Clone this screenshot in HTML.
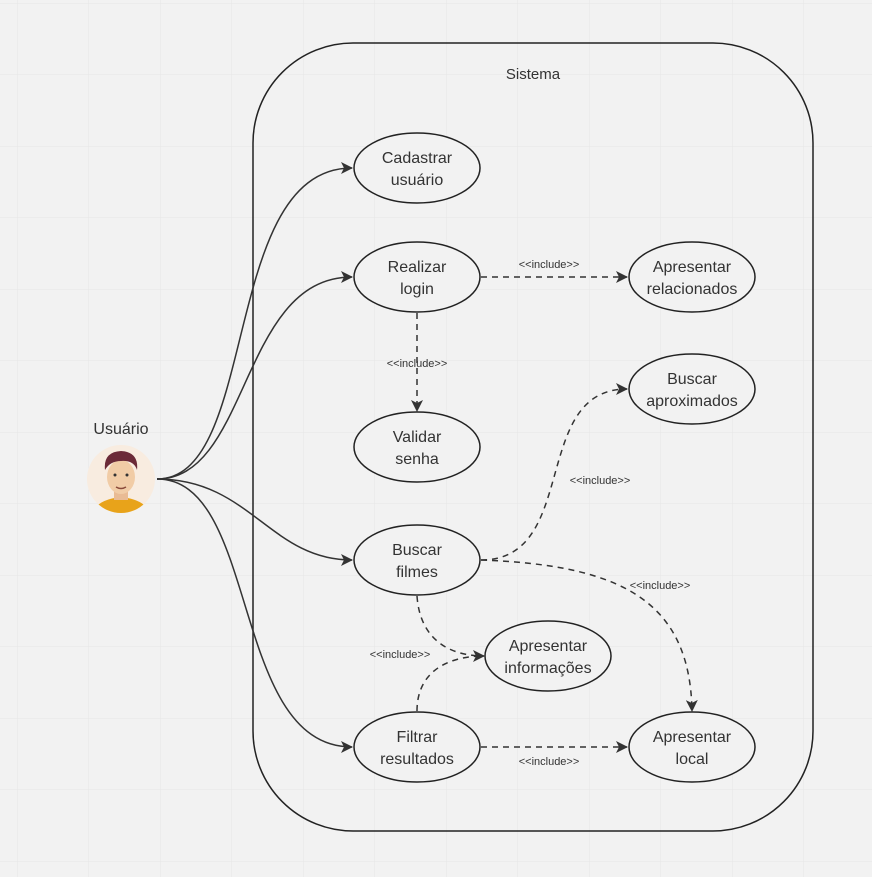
<!DOCTYPE html>
<html><head><meta charset="utf-8"><style>
html,body{margin:0;padding:0;background:#f2f2f2;}
svg{display:block;font-family:"Liberation Sans",sans-serif;}
</style></head><body>
<svg width="872" height="877" viewBox="0 0 872 877">
<defs>
<pattern id="g" x="17" y="3" width="71.5" height="71.5" patternUnits="userSpaceOnUse">
<path d="M0 0V71.5M0 0H71.5" stroke="#e6e6e6" stroke-width="1" fill="none"/>
</pattern>
<marker id="a" markerWidth="12" markerHeight="12" refX="11" refY="6" orient="auto" markerUnits="userSpaceOnUse">
<path d="M0 0L12 6L0 12L3 6Z" fill="#333"/>
</marker>
</defs>
<rect width="872" height="877" fill="url(#g)"/>
<rect x="253" y="43" width="560" height="788" rx="100" fill="none" stroke="#222" stroke-width="1.5"/>
<text x="533" y="79" font-size="15" fill="#333" text-anchor="middle">Sistema</text>

<g fill="none" stroke="#333" stroke-width="1.5">
<path d="M157 479C260 479 220 168 352 168" marker-end="url(#a)"/>
<path d="M157 479C250 479 240 277 352 277" marker-end="url(#a)"/>
<path d="M157 479C250 479 270 560 352 560" marker-end="url(#a)"/>
<path d="M157 479C260 479 230 747 352 747" marker-end="url(#a)"/>
</g>
<g fill="none" stroke="#333" stroke-width="1.5" stroke-dasharray="6 5">
<path d="M481 277H627" marker-end="url(#a)"/>
<path d="M417 313V411" marker-end="url(#a)"/>
<path d="M481 560C580 560 530 389 627 389" marker-end="url(#a)"/>
<path d="M481 560C620 565 690 600 692 711" marker-end="url(#a)"/>
<path d="M417 596C420 640 450 656 484 656" marker-end="url(#a)"/>
<path d="M417 711C417 670 450 656 484 656"/>
<path d="M481 747H627" marker-end="url(#a)"/>
</g>
<g font-size="11" fill="#333" text-anchor="middle">
<text x="549" y="268">&lt;&lt;include&gt;&gt;</text>
<text x="417" y="367">&lt;&lt;include&gt;&gt;</text>
<text x="600" y="484">&lt;&lt;include&gt;&gt;</text>
<text x="660" y="589">&lt;&lt;include&gt;&gt;</text>
<text x="400" y="658">&lt;&lt;include&gt;&gt;</text>
<text x="549" y="765">&lt;&lt;include&gt;&gt;</text>
</g>

<g fill="#f2f2f2" stroke="#222" stroke-width="1.5">
<ellipse cx="417" cy="168" rx="63" ry="35"/>
<ellipse cx="417" cy="277" rx="63" ry="35"/>
<ellipse cx="417" cy="447" rx="63" ry="35"/>
<ellipse cx="417" cy="560" rx="63" ry="35"/>
<ellipse cx="417" cy="747" rx="63" ry="35"/>
<ellipse cx="692" cy="277" rx="63" ry="35"/>
<ellipse cx="692" cy="389" rx="63" ry="35"/>
<ellipse cx="548" cy="656" rx="63" ry="35"/>
<ellipse cx="692" cy="747" rx="63" ry="35"/>
</g>
<g font-size="16" fill="#333" text-anchor="middle">
<text x="417" y="163">Cadastrar</text><text x="417" y="185">usuário</text>
<text x="417" y="272">Realizar</text><text x="417" y="294">login</text>
<text x="417" y="442">Validar</text><text x="417" y="464">senha</text>
<text x="417" y="555">Buscar</text><text x="417" y="577">filmes</text>
<text x="417" y="742">Filtrar</text><text x="417" y="764">resultados</text>
<text x="692" y="272">Apresentar</text><text x="692" y="294">relacionados</text>
<text x="692" y="384">Buscar</text><text x="692" y="406">aproximados</text>
<text x="548" y="651">Apresentar</text><text x="548" y="673">informações</text>
<text x="692" y="742">Apresentar</text><text x="692" y="764">local</text>
</g>

<text x="121" y="434" font-size="16" fill="#333" text-anchor="middle">Usuário</text>
<clipPath id="c"><circle cx="121" cy="479" r="34"/></clipPath>
<circle cx="121" cy="479" r="34" fill="#f8ece0"/>
<g clip-path="url(#c)">
<path d="M90 520Q92 500 121 497Q150 500 152 520Z" fill="#e8a31a"/>
<rect x="114" y="488" width="14" height="12" fill="#e9bb94"/>
<ellipse cx="121" cy="477" rx="14" ry="17" fill="#f1cca6"/>
<path d="M105 470Q103 452 121 451Q139 452 137 470Q134 460 121 461Q110 461 105 470Z" fill="#6b2a38"/>
<circle cx="115" cy="475" r="1.5" fill="#333"/><circle cx="127" cy="475" r="1.5" fill="#333"/>
<path d="M116 487Q121 490 126 487" stroke="#8a4a3a" stroke-width="1.5" fill="none"/>
</g>
</svg>
</body></html>
